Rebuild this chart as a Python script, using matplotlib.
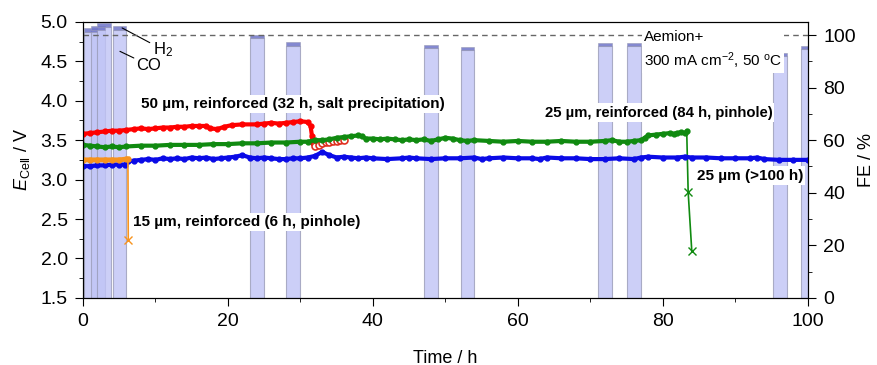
import matplotlib
matplotlib.use("Agg")
import matplotlib.pyplot as plt
from matplotlib.ticker import MultipleLocator, FormatStrFormatter

plt.rcParams['font.family'] = ['Liberation Sans', 'DejaVu Sans']
plt.rcParams['mathtext.fontset'] = 'custom'
plt.rcParams['mathtext.rm'] = 'Liberation Sans'
plt.rcParams['mathtext.it'] = 'Liberation Sans:italic'

# cell voltage traces (time in h, voltage in V)
t_50 = [0, 1, 2, 3, 4, 5, 6, 7, 8, 9, 10, 11, 12, 13, 14, 15, 16, 17, 17.5, 18.5,
        19.5, 20.5, 22, 24, 25, 26, 27, 28, 29, 30, 31, 31.4, 31.6, 31.8]
v_50 = [3.58, 3.59, 3.60, 3.61, 3.62, 3.62, 3.63, 3.64, 3.65, 3.64, 3.65, 3.66, 3.66,
        3.67, 3.67, 3.68, 3.68, 3.68, 3.65, 3.64, 3.67, 3.69, 3.70, 3.70, 3.71, 3.72,
        3.71, 3.72, 3.73, 3.74, 3.73, 3.68, 3.55, 3.46]
t_50_salt = [32.0, 32.5, 33.0, 33.5, 34.0, 34.5, 35.0, 35.5, 36.0]
v_50_salt = [3.43, 3.44, 3.46, 3.48, 3.48, 3.49, 3.49, 3.50, 3.50]

t_25r = [0, 1, 2, 3, 4, 5, 6, 8, 10, 12, 14, 16, 18, 20, 22, 24, 26, 28, 30, 31, 32,
         33, 34, 35, 36, 37, 38, 38.5, 39, 40, 41, 42, 43, 44, 45, 46, 47, 48, 49, 50,
         51, 52, 53, 54, 56, 58, 60, 62, 64, 66, 68, 70, 72, 73, 74, 75, 76, 77, 77.5,
         78, 79, 80, 81, 81.5, 82, 82.5, 83, 83.3]
v_25r = [3.44, 3.43, 3.42, 3.41, 3.42, 3.41, 3.42, 3.43, 3.43, 3.44, 3.44, 3.44, 3.45,
         3.45, 3.46, 3.46, 3.47, 3.47, 3.48, 3.48, 3.50, 3.50, 3.51, 3.53, 3.54, 3.55,
         3.56, 3.55, 3.52, 3.52, 3.51, 3.52, 3.51, 3.50, 3.51, 3.50, 3.51, 3.49, 3.51,
         3.53, 3.52, 3.50, 3.49, 3.50, 3.49, 3.48, 3.49, 3.48, 3.48, 3.49, 3.48, 3.48,
         3.49, 3.50, 3.48, 3.48, 3.49, 3.50, 3.53, 3.56, 3.57, 3.58, 3.59, 3.58, 3.59,
         3.60, 3.59, 3.61]
t_25r_fail = [83.3, 83.5, 84.0]
v_25r_fail = [3.61, 2.84, 2.09]

t_25 = [0, 1, 2, 3, 4, 5, 5.8, 6.2, 7, 8, 9, 10, 11, 12, 13, 14, 15, 16, 17, 18, 19,
        20, 21, 22, 23, 24, 25, 26, 27, 28, 29, 30, 31, 32, 33, 34, 35, 36, 37, 38, 39,
        40, 42, 44, 45, 46, 48, 50, 52, 54, 55, 56, 58, 60, 62, 63, 64, 66, 68, 70, 72,
        74, 76, 77, 78, 80, 82, 83, 84, 86, 88, 90, 92, 93, 94, 96, 98, 100]
v_25 = [3.17, 3.17, 3.18, 3.18, 3.19, 3.19, 3.19, 3.23, 3.24, 3.25, 3.26, 3.25, 3.27,
        3.26, 3.27, 3.26, 3.28, 3.27, 3.28, 3.26, 3.27, 3.28, 3.29, 3.31, 3.28, 3.27,
        3.28, 3.27, 3.26, 3.26, 3.27, 3.27, 3.28, 3.30, 3.35, 3.31, 3.28, 3.29, 3.28,
        3.27, 3.28, 3.27, 3.26, 3.27, 3.28, 3.27, 3.26, 3.27, 3.27, 3.28, 3.26, 3.27,
        3.28, 3.27, 3.27, 3.26, 3.28, 3.27, 3.27, 3.26, 3.26, 3.27, 3.26, 3.28, 3.29,
        3.28, 3.28, 3.29, 3.28, 3.28, 3.27, 3.27, 3.27, 3.28, 3.26, 3.25, 3.25, 3.25]

t_15 = [0, 1, 2, 3, 4, 5, 6, 6.2]
v_15 = [3.25, 3.25, 3.25, 3.25, 3.25, 3.25, 3.26, 3.26]
t_15_fail = [6.2, 6.25]
v_15_fail = [3.26, 2.23]

# faradaic efficiency bars (start time, FE CO, FE H2)
fe_start = [0.1, 1.1, 2.0, 4.1, 23.1, 28.0, 47.1, 52.1, 71.1, 75.1, 95.2, 99.1]
fe_co = [101.0, 102.0, 103.0, 102.0, 98.8, 96.0, 95.0, 94.2, 95.7, 95.7, 92.0, 94.6]
fe_h2 = [1.6, 1.6, 1.4, 1.6, 1.4, 1.5, 1.4, 1.4, 1.4, 1.4, 1.3, 1.4]

fig, ax1 = plt.subplots(figsize=(8.78, 3.65), dpi=100)
fig.subplots_adjust(left=0.0945, right=0.920, bottom=0.184, top=0.94)
ax2 = ax1.twinx()

ax2.bar(fe_start, fe_co, width=1.9, align='edge', color='#c0c4f6', alpha=0.8,
        edgecolor='#9a9cb8', linewidth=0.8)
ax2.bar(fe_start, fe_h2, bottom=fe_co, width=1.9, align='edge', color='#6f74c8',
        alpha=0.85, edgecolor='#9a9cb8', linewidth=0.5)
ax2.axhline(100, color='#666666', lw=1, ls=(0, (4, 3)), zorder=5)
ax2.set_ylim(0, 105)
ax2.yaxis.set_major_locator(MultipleLocator(20))
ax2.yaxis.set_minor_locator(MultipleLocator(10))
ax2.set_ylabel('FE / %', fontsize=13, labelpad=2)
ax2.annotate('H$_2$', xy=(5.4, 102.7), xytext=(9.6, 94.5), fontsize=12,
             ha='left', va='center', arrowprops=dict(arrowstyle='-', lw=0.8, color='black',
                                                     shrinkA=0, shrinkB=0))
ax2.annotate('CO', xy=(5.1, 93.8), xytext=(7.4, 88.5), fontsize=12,
             ha='left', va='center', arrowprops=dict(arrowstyle='-', lw=0.8, color='black',
                                                     shrinkA=0, shrinkB=0))

ax1.set_zorder(ax2.get_zorder() + 1)
ax1.patch.set_visible(False)

ax1.plot(t_50, v_50, color='#ff0000', lw=3, marker='o', ms=3.5)
ax1.plot(t_50_salt, v_50_salt, color='#e03020', lw=0, marker='o', ms=5,
         mfc='white', mew=1.2)
ax1.plot(t_25r, v_25r, color='#108a10', lw=3, marker='o', ms=3.5)
ax1.plot(t_25r_fail, v_25r_fail, color='#108a10', lw=1.2, marker='x', ms=6,
         markevery=[1, 2])
ax1.plot(t_25, v_25, color='#0a0ae6', lw=3, marker='o', ms=3.5)
ax1.plot(t_15, v_15, color='#f7931e', lw=3.5, marker='o', ms=3.5)
ax1.plot(t_15_fail, v_15_fail, color='#f7931e', lw=1.2, marker='x', ms=6,
         markevery=[1])

box = dict(facecolor='white', edgecolor='none', pad=1.5)
ax1.text(29, 3.96, '50 µm, reinforced (32 h, salt precipitation)', fontsize=11,
         fontweight='bold', ha='center', va='center', bbox=box)
ax1.text(79.4, 3.85, '25 µm, reinforced (84 h, pinhole)', fontsize=10.7,
         fontweight='bold', ha='center', va='center', bbox=box)
ax1.text(92.0, 3.05, '25 µm (>100 h)', fontsize=11,
         fontweight='bold', ha='center', va='center', bbox=box)
ax1.text(22.6, 2.46, '15 µm, reinforced (6 h, pinhole)', fontsize=11,
         fontweight='bold', ha='center', va='center', bbox=box)
ax1.text(77.4, 4.64, 'Aemion+\n300 mA cm$^{-2}$, 50 $^{\\mathrm{o}}$C', fontsize=11,
         ha='left', va='center', linespacing=1.4, bbox=box)

ax1.set_xlim(0, 100)
ax1.set_ylim(1.5, 5.0)
ax1.xaxis.set_major_locator(MultipleLocator(20))
ax1.xaxis.set_minor_locator(MultipleLocator(10))
ax1.yaxis.set_major_locator(MultipleLocator(0.5))
ax1.yaxis.set_minor_locator(MultipleLocator(0.25))
ax1.yaxis.set_major_formatter(FormatStrFormatter('%.1f'))
ax1.set_xlabel('Time / h', fontsize=13, labelpad=14)
ax1.set_ylabel('$E_{\\mathrm{Cell}}$ / V', fontsize=13, labelpad=6)

for ax in (ax1, ax2):
    ax.tick_params(which='major', direction='out', length=6, labelsize=14, pad=5)
    ax.tick_params(which='minor', direction='out', length=3)

fig.savefig('out.png', dpi=100)
